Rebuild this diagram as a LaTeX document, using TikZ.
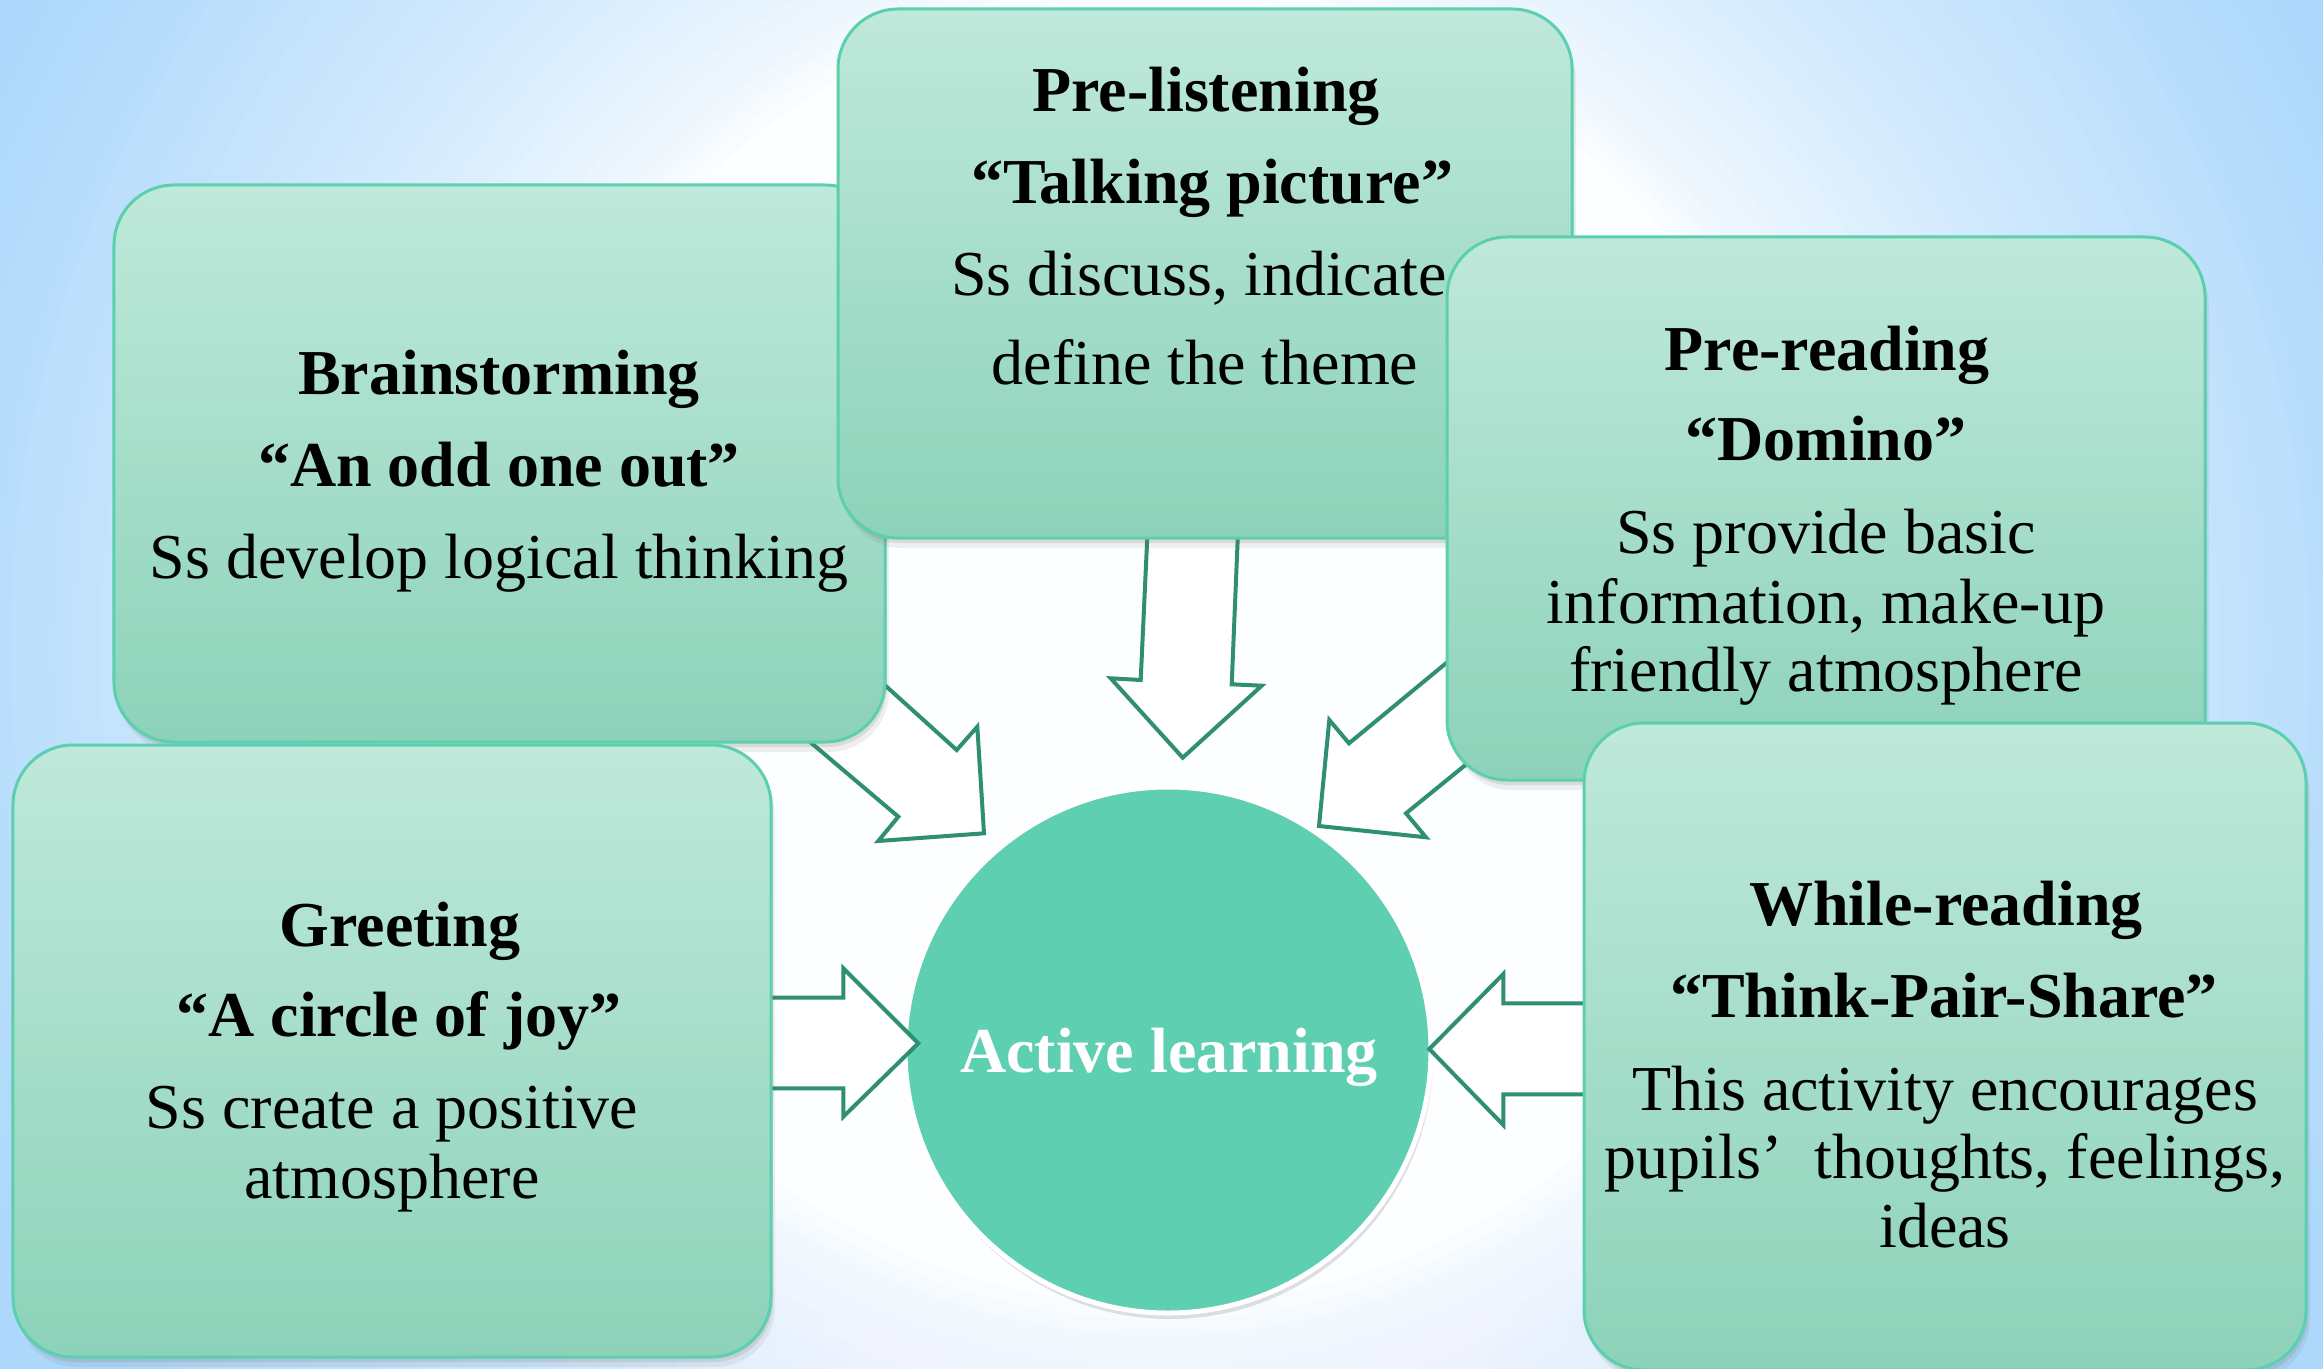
\documentclass[tikz,border=0pt]{standalone}
\usepackage{fontspec}
\setmainfont{Liberation Serif}
\usetikzlibrary{shadows}
\definecolor{bgblue}{RGB}{173,216,251}
\definecolor{cardtop}{RGB}{191,233,218}
\definecolor{cardbot}{RGB}{140,210,185}
\definecolor{cardline}{RGB}{92,207,174}
\definecolor{hubfill}{RGB}{94,207,177}
\definecolor{arrowline}{RGB}{47,143,112}
\begin{document}
\begin{tikzpicture}[x=1bp,y=-1bp,
  card/.style={draw=cardline, line width=3bp, rounded corners=60bp,
    top color=cardtop, bottom color=cardbot, inner sep=0,
    drop shadow={shadow xshift=2bp, shadow yshift=-5bp, opacity=.15, fill=black!60},
    drop shadow={shadow xshift=4bp, shadow yshift=-10bp, opacity=.1, fill=black!60}},
  hub/.style={circle, inner sep=0, minimum size=526bp, fill=hubfill, draw=white, line width=5bp,
    drop shadow={shadow xshift=2bp, shadow yshift=-6bp, opacity=.2, fill=black!60}},
  blockarrow/.style={fill=white, draw=arrowline, line width=4bp, line join=miter},
  ttl/.style={font=\fontsize{64bp}{70bp}\selectfont\bfseries, anchor=base, inner sep=0},
  dsc/.style={font=\fontsize{64bp}{70bp}\selectfont, anchor=base, inner sep=0},
  hubtxt/.style={font=\fontsize{64bp}{70bp}\selectfont\bfseries, text=white, anchor=base, inner sep=0}]
\useasboundingbox (0,0) rectangle (2323,1369);
% background: radial gradient built from concentric discs
\begin{scope}
  \clip (0,0) rectangle (2323,1369);
  \fill[bgblue] (0,0) rectangle (2323,1369);
  \foreach \r in {1300,1285,...,650} {
    \pgfmathsetmacro{\p}{100*((\r-650)/650)^0.7}
    \fill[bgblue!\p!white] (1160,650) circle [radius=\r];
  }
  % soft white glow towards the bottom centre
  \foreach \r in {520,495,...,70} {
    \fill[white, opacity=0.07] (1170,1330) circle [radius=\r];
  }
\end{scope}
% central circle
\node[hub] (hub) at (1168,1050) {};
\node[hubtxt] (hubt) at (1169,1072) {Active learning};
% block arrows
\draw[blockarrow] (816,623) -- (956.7,750) -- (977.3,726.7) -- (984,833.3) -- (878.3,841) -- (898.3,816.7) -- (741.7,684) -- cycle;
\draw[blockarrow] (1149,500) -- (1140.7,680) -- (1110.7,678.3) -- (1182.7,757.7) -- (1261.7,685.7) -- (1231.7,684.3) -- (1239.3,500) -- cycle;
\draw[blockarrow] (1525,598) -- (1349,743.3) -- (1329.3,720) -- (1319,826) -- (1426,837.3) -- (1406,813.3) -- (1541,703.5) -- cycle;
\draw[blockarrow] (700,997.7) -- (843.3,997.7) -- (843.3,968.3) -- (918.3,1043.3) -- (843.3,1116.7) -- (843.3,1088.3) -- (700,1088.3) -- cycle;
\draw[blockarrow] (1650,1003.3) -- (1503.3,1003.3) -- (1503.3,974) -- (1429.3,1049) -- (1503.3,1125) -- (1503.3,1094.3) -- (1650,1094.3) -- cycle;
% Brainstorming
\node[card, minimum width=771bp, minimum height=557bp] (b1) at (499.5,463.5) {};
\node[ttl] (b1a) at (499,394) {Brainstorming};
\node[ttl] (b1b) at (499,486) {“An odd one out”};
\node[dsc] (b1c) at (499,578) {Ss develop logical thinking};
% Greeting
\node[card, minimum width=758bp, minimum height=612bp] (b4) at (392,1051) {};
\node[ttl] (b4a) at (400,946) {Greeting};
\node[ttl] (b4b) at (399,1036) {“A circle of joy”};
\node[dsc] (b4c) at (392,1128) {Ss create a positive};
\node[dsc] (b4d) at (392,1198) {atmosphere};
% Pre-listening
\node[card, minimum width=734bp, minimum height=529bp] (b2) at (1205,273.5) {};
\node[ttl] (b2a) at (1206,112) {Pre-listening};
\node[ttl] (b2b) at (1212,204) {“Talking picture”};
\node[dsc] (b2c) at (1199,296) {Ss discuss, indicate};
\node[dsc] (b2d) at (1205,384) {define the theme};
% Pre-reading
\node[card, minimum width=758bp, minimum height=543bp] (b3) at (1826,508.5) {};
\node[ttl] (b3a) at (1827,370) {Pre-reading};
\node[ttl] (b3b) at (1826,460) {“Domino”};
\node[dsc] (b3c) at (1826,553) {Ss provide basic};
\node[dsc] (b3d) at (1826,623) {information, make-up};
\node[dsc] (b3e) at (1826,691) {friendly atmosphere};
% While-reading
\node[card, minimum width=722bp, minimum height=647bp] (b5) at (1945,1046.5) {};
\node[ttl] (b5a) at (1946,925) {While-reading};
\node[ttl] (b5b) at (1944,1017) {“Think-Pair-Share”};
\node[dsc] (b5c) at (1945,1110) {This activity encourages};
\node[dsc] (b5d) at (1945,1178) {pupils’\ \ thoughts, feelings,};
\node[dsc] (b5e) at (1945,1247) {ideas};
\end{tikzpicture}
\end{document}
